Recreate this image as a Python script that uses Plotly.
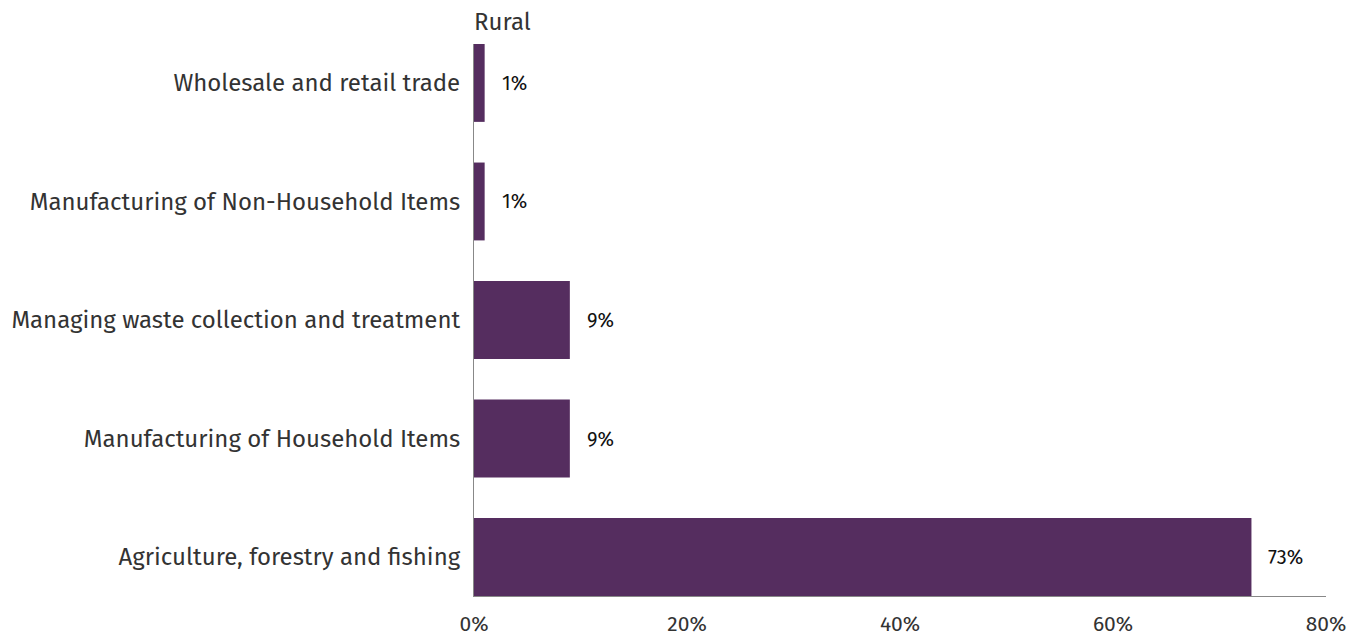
import plotly.graph_objects as go

# Sectors listed bottom-to-top as drawn on the category axis
sectors = [
    "Agriculture, forestry and fishing",
    "Manufacturing of Household Items",
    "Managing waste collection and treatment",
    "Manufacturing of Non-Household Items",
    "Wholesale and retail trade",
]
shares = [73, 9, 9, 1, 1]
share_labels = ["73%", "9%", "9%", "1%", "1%"]
x_ticks = [0, 20, 40, 60, 80]
x_tick_labels = ["0%", "20%", "40%", "60%", "80%"]

FONT = "Fira Sans, Open Sans, Noto Sans, sans-serif"
BAR = "#552d5f"
BAR_W = 0.657

fig = go.Figure(
    go.Bar(
        x=shares,
        y=sectors,
        orientation="h",
        marker=dict(color=BAR, line=dict(width=0)),
        width=BAR_W,
        hoverinfo="skip",
    )
)

for v, s, lab in zip(shares, sectors, share_labels):
    fig.add_annotation(
        x=v, y=s, text=lab, xanchor="left", yanchor="middle",
        xshift=15, showarrow=False,
        font=dict(family=FONT, size=20, color="#111111"),
    )

fig.add_annotation(
    x=0, y=1, xref="paper", yref="paper", text="Rural",
    xanchor="left", yanchor="bottom", yshift=6, xshift=-2, showarrow=False,
    font=dict(family=FONT, size=24, color="#333333"),
)

fig.update_layout(
    width=1365, height=638,
    margin=dict(l=474, r=39, t=44, b=42),
    paper_bgcolor="white", plot_bgcolor="white",
    showlegend=False,
    font=dict(family=FONT, color="#333333"),
    xaxis=dict(
        range=[0, 80], tickvals=x_ticks, ticktext=x_tick_labels,
        showgrid=False, zeroline=False, showline=True, automargin=False,
        linecolor="#888888", linewidth=1, ticks="",
        tickfont=dict(family=FONT, size=21, color="#333333"),
        ticklabelstandoff=9,
    ),
    yaxis=dict(
        range=[-BAR_W / 2, 4 + BAR_W / 2], showgrid=False, zeroline=False,
        showline=True, automargin=False, linecolor="#888888", linewidth=1,
        ticks="", tickfont=dict(size=24, color="#333333"),
        ticklabelstandoff=8,
    ),
)

fig.write_html("out.html")
